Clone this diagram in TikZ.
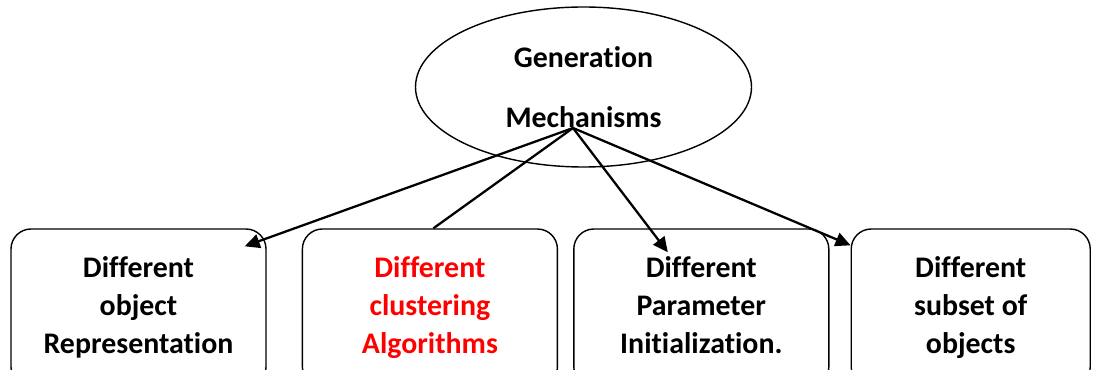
\documentclass[tikz,border=0pt]{standalone}
\usepackage{fontspec}
\setmainfont{Carlito}[Ligatures=NoCommon]
\usetikzlibrary{arrows.meta, positioning, shapes, calc}

\tikzset{
    choice/.style={draw, rounded corners=0.4cm, line width=0.8pt, minimum width=5.1cm, minimum height=3.16cm, align=center, font=\fontsize{17}{21.6}\selectfont\bfseries},
    link/.style={line width=1.3pt},
}

\begin{document}
\begin{tikzpicture}[node distance=0.7cm]
    \clip (0,0) rectangle (21.94,-7.4);

    \node[draw, ellipse, line width=0.8pt, minimum width=6.72cm, minimum height=3.2cm, inner sep=0pt, align=center, font=\fontsize{17}{34}\selectfont\bfseries] (gen) at (11.67,-1.74) {Generation\\Mechanisms};

    % struts keep the three text lines at the same height in every box
    \node[choice] (rep) at (2.77,-6.16) {\strut Different\\object\\Representation\strut};
    \node[choice, right=of rep, text=red] (alg) {\strut Different\\clustering\\Algorithms\strut};
    \node[choice, right=0.3cm of alg] (par) {\strut Different\\Parameter\\Initialization.\strut};
    \node[choice, right=0.42cm of par, minimum width=4.78cm] (sub) {\strut Different\\subset of\\objects\strut};

    \coordinate (src) at ([xshift=-0.21cm,yshift=-0.82cm]gen.center);

    \draw[link, -{Triangle[length=0.3cm,width=0.28cm]}] (src) -- ([xshift=-0.44cm,yshift=-0.36cm]rep.north east);
    \draw[link] (src) -- ([xshift=0.07cm]alg.north);
    \draw[link, -{Triangle[length=0.3cm,width=0.28cm]}] (src) -- ([xshift=-0.67cm,yshift=-0.48cm]par.north);
    \draw[link, -{Triangle[length=0.3cm,width=0.28cm]}] (src) -- ([yshift=-0.34cm]sub.north west);
\end{tikzpicture}
\end{document}
